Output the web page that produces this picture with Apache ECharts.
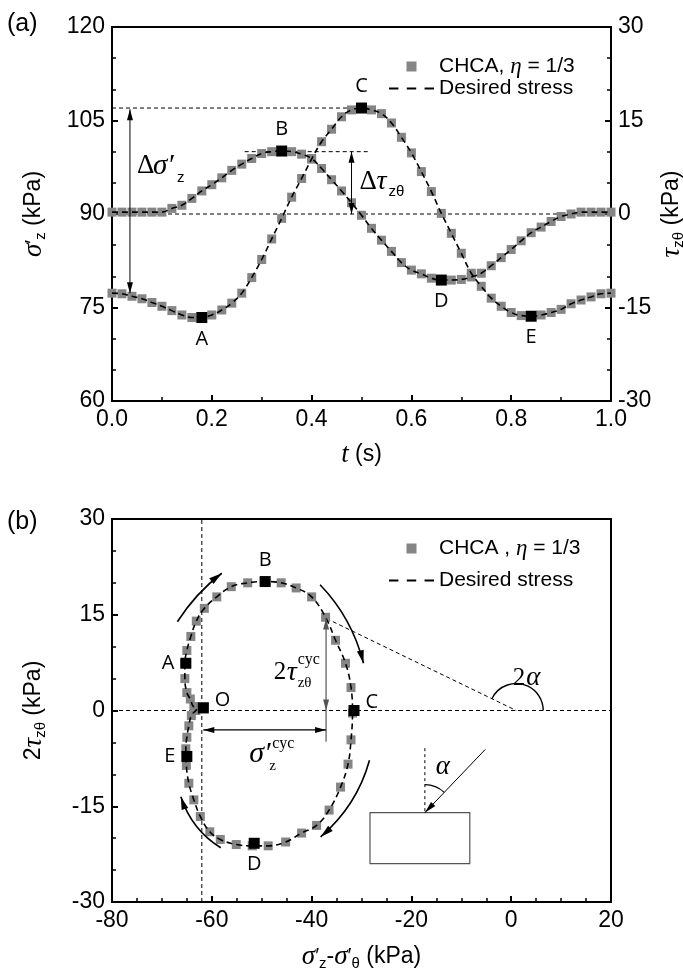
<!DOCTYPE html>
<html><head><meta charset="utf-8">
<script src="https://cdn.jsdelivr.net/npm/echarts/dist/echarts.min.js"></script>
<style>html,body{margin:0;padding:0;background:#fff}#c{width:683px;height:974px}</style>
</head><body><div id="c"></div>
<script>
// ---------- data (panel a) ----------
const tVals = [0,0.02,0.04,0.06,0.08,0.10,0.12,0.14,0.16,0.18,0.20,0.22,0.24,0.26,0.28,0.30,0.32,0.34,0.36,0.38,0.40,0.42,0.44,0.46,0.48,0.50,0.52,0.54,0.56,0.58,0.60,0.62,0.64,0.66,0.68,0.70,0.72,0.74,0.76,0.78,0.80,0.82,0.84,0.86,0.88,0.90,0.92,0.94,0.96,0.98,1.00];
const sigmaZ = [77.3,77.2,76.8,76.4,75.8,75.2,74.5,73.8,73.4,73.4,73.8,74.6,75.7,77.3,79.8,82.7,86.0,89.3,92.7,95.7,98.8,101.6,103.6,105.6,106.7,107.0,106.7,106.1,104.6,102.3,99.8,96.8,93.6,90.1,86.9,83.7,80.5,78.4,76.5,75.2,74.2,73.7,73.6,73.8,74.2,74.7,75.6,76.2,76.7,77.2,77.3];
const tauZT = [0.3,0.3,0.3,0.3,0.3,0.3,0.9,1.4,2.5,3.7,4.7,5.8,7.0,8.0,8.9,9.7,10.0,10.1,10.0,9.6,8.9,7.3,5.5,3.7,1.8,-0.2,-2.3,-4.2,-6.0,-7.8,-9.0,-9.6,-10.3,-10.6,-10.6,-10.5,-10.1,-9.5,-8.3,-7.0,-5.7,-4.3,-3.0,-2.1,-1.2,-0.4,0.0,0.3,0.3,0.3,0.3];
const keySigT = [0.18,0.50,0.84], keySigV = [73.4,107.0,73.6], keySigN = ['A','C','E'];
const keyTauT = [0.34,0.66], keyTauV = [10.1,-10.6], keyTauN = ['B','D'];
// ---------- data (panel b) ----------
const loopX = [-61.5,-61.6,-62.0,-62.4,-63.0,-63.6,-64.3,-65.0,-65.4,-65.4,-65.0,-64.2,-63.1,-61.5,-59.0,-56.1,-52.8,-49.5,-46.1,-43.1,-40.0,-37.2,-35.2,-33.2,-32.1,-31.8,-32.1,-32.7,-34.2,-36.5,-39.0,-42.0,-45.2,-48.7,-51.9,-55.1,-58.3,-60.4,-62.3,-63.6,-64.6,-65.1,-65.2,-65.0,-64.6,-64.1,-63.2,-62.6,-62.1,-61.6];
const loopY = [0.6,0.6,0.6,0.6,0.6,0.6,1.8,2.8,5.0,7.4,9.4,11.6,14.0,16.0,17.8,19.4,20.0,20.2,20.0,19.2,17.8,14.6,11.0,7.4,3.6,-0.4,-4.6,-8.4,-12.0,-15.6,-18.0,-19.2,-20.6,-21.2,-21.2,-21.0,-20.2,-19.0,-16.6,-14.0,-11.4,-8.6,-6.0,-4.2,-2.4,-0.8,0.0,0.6,0.6,0.6];
const keyLoopX = [-61.7,-65.2,-49.3,-31.5,-51.5,-65.0];
const keyLoopY = [0.4,7.4,20.2,0.0,-20.8,-7.2];
const keyLoopN = ['O','A','B','C','D','E'];
const keyLoopPos = ['right','left','top','right','bottom','left'];

const SANS = '"Liberation Sans", Arial, sans-serif';
const SERIF = '"Liberation Serif", "Times New Roman", serif';
const LBL = '"Open Sans", sans-serif';

const richName = {
  s:{fontFamily:SERIF, fontStyle:'italic', fontSize:27, color:'#000'},
  p:{fontFamily:SANS, fontSize:21, color:'#000'},
  b:{fontFamily:SANS, fontSize:15, color:'#000', padding:[14,0,0,0]},
  n:{fontFamily:SANS, fontSize:23, color:'#000'}
};

function axis(extra, minorSplit){
  return Object.assign({
    type:'value',
    axisLine:{show:true, onZero:false, lineStyle:{color:'#000', width:2}},
    axisTick:{show:true, inside:true, length:6, lineStyle:{color:'#000', width:2}},
    minorTick:{show:true, splitNumber:minorSplit, length:4, lineStyle:{color:'#000', width:1.5}},
    splitLine:{show:false},
    axisLabel:{color:'#000', fontSize:23, fontFamily:SANS, margin:7},
    nameLocation:'middle', nameMoveOverlap:false,
    nameTextStyle:{rich:richName, fontFamily:SANS, fontSize:23, color:'#000'}
  }, extra);
}

const chart = echarts.init(document.getElementById('c'), null, {renderer:'canvas'});

const gray = '#858585';
const grayStyle = {color:gray, opacity:1};
const blackStyle = {color:'#000', opacity:1};
const dash = {color:'#000', width:1.6, type:[6,4]};
const NAME_A = 'CHCA, η = 1/3', NAME_B = 'CHCA , η = 1/3', NAME_D = 'Desired stress';
const SQUARE = 'path://M0,0h10v10h-10z';
const DASHES = 'path://M0,0h9v2h-9zM17,0h9v2h-9zM34,0h9v2h-9z';
const legendText = {fontFamily:SANS, fontSize:21, color:'#000', lineHeight:17,
  rich:{i:{fontFamily:SERIF, fontStyle:'italic', fontSize:23, color:'#000', lineHeight:17}}};

const option = {
  animation:false,
  backgroundColor:'#fff',
  grid:[
    {left:112, right:72, top:27, height:374, show:true, borderColor:'#000', borderWidth:2, containLabel:false, outerBoundsMode:'none'},
    {left:112, right:72, top:519, height:383, show:true, borderColor:'#000', borderWidth:2, containLabel:false, outerBoundsMode:'none'}
  ],
  xAxis:[
    axis({gridIndex:0, min:0, max:1, interval:0.2, name:'{s|t}{n| (s)}', nameGap:40,
          axisLabel:{color:'#000', fontSize:23, fontFamily:SANS, margin:7, formatter:v=>v.toFixed(1)}}, 2),
    axis({gridIndex:1, min:-80, max:20, interval:20, nameGap:40,
          name:'{s|σ}{p|′}{b|z}{n|-}{s|σ}{p|′}{b|θ}{n| (kPa)}'}, 4)
  ],
  yAxis:[
    axis({gridIndex:0, min:60, max:120, interval:15, name:'{s|σ}{p|′}{b|z}{n| (kPa)}', nameRotate:90, nameGap:64}, 3),
    axis({gridIndex:0, min:-30, max:30, interval:15, position:'right', name:'{s|τ}{b|zθ}{n| (kPa)}', nameRotate:90, nameGap:46}, 3),
    axis({gridIndex:1, min:-30, max:30, interval:15, name:'{n|2}{s|τ}{b|zθ}{n| (kPa)}', nameRotate:90, nameGap:64}, 3)
  ],
  legend:[
    {orient:'vertical', left:389, top:55, padding:0, itemWidth:45, itemHeight:10, itemGap:0, selectedMode:false,
     textStyle:legendText, formatter:n=>n.replace('η','{i|η}'),
     data:[{name:NAME_A, icon:SQUARE, itemStyle:grayStyle}, {name:NAME_D, icon:DASHES, itemStyle:blackStyle}]},
    {orient:'vertical', left:389, top:537, padding:0, itemWidth:45, itemHeight:10, itemGap:10, selectedMode:false,
     textStyle:legendText, formatter:n=>n.replace('η','{i|η}'),
     data:[{name:NAME_B, icon:SQUARE, itemStyle:grayStyle}, {name:NAME_D, icon:DASHES, itemStyle:blackStyle}]}
  ],
  series:[
    {type:'scatter', name:NAME_A, xAxisIndex:0, yAxisIndex:0, symbol:'rect', symbolSize:9, itemStyle:grayStyle, z:3,
     data:tVals.map((t,i)=>[t,sigmaZ[i]])},
    {type:'scatter', name:NAME_A, xAxisIndex:0, yAxisIndex:1, symbol:'rect', symbolSize:9, itemStyle:grayStyle, z:3,
     data:tVals.map((t,i)=>[t,tauZT[i]])},
    {type:'line', name:NAME_D, xAxisIndex:0, yAxisIndex:0, symbol:'none', smooth:0.4, lineStyle:dash, itemStyle:blackStyle, z:4,
     data:tVals.map((t,i)=>[t,sigmaZ[i]])},
    {type:'line', name:NAME_D, xAxisIndex:0, yAxisIndex:1, symbol:'none', smooth:0.4, lineStyle:dash, itemStyle:blackStyle, z:4,
     data:tVals.map((t,i)=>[t,tauZT[i]])},
    {type:'scatter', name:'keyA1', xAxisIndex:0, yAxisIndex:0, symbol:'rect', symbolSize:11, itemStyle:blackStyle, z:6,
     label:{show:true, formatter:'{b}', fontFamily:LBL, fontSize:20, color:'#000'},
     data:keySigT.map((t,i)=>({name:keySigN[i], value:[t,keySigV[i]], label:{position: keySigN[i]==='C'?'top':'bottom', distance:6}}))},
    {type:'scatter', name:'keyA2', xAxisIndex:0, yAxisIndex:1, symbol:'rect', symbolSize:11, itemStyle:blackStyle, z:6,
     label:{show:true, formatter:'{b}', fontFamily:LBL, fontSize:20, color:'#000'},
     data:keyTauT.map((t,i)=>({name:keyTauN[i], value:[t,keyTauV[i]], label:{position: keyTauN[i]==='B'?'top':'bottom', distance:6}}))},
    {type:'scatter', name:NAME_B, xAxisIndex:1, yAxisIndex:2, symbol:'rect', symbolSize:9, itemStyle:grayStyle, z:3,
     data:loopX.map((x,i)=>[x,loopY[i]])},
    {type:'line', name:NAME_D, xAxisIndex:1, yAxisIndex:2, symbol:'none', smooth:0.4, lineStyle:dash, itemStyle:blackStyle, z:4,
     data:loopX.map((x,i)=>[x,loopY[i]]).concat([[loopX[0],loopY[0]]])},
    {type:'scatter', name:'keyB', xAxisIndex:1, yAxisIndex:2, symbol:'rect', symbolSize:11, itemStyle:blackStyle, z:6,
     label:{show:true, formatter:'{b}', fontFamily:LBL, fontSize:20, color:'#000'},
     data:keyLoopX.map((x,i)=>({name:keyLoopN[i], value:[x,keyLoopY[i]],
       label:{position:keyLoopPos[i], distance:6, offset:(keyLoopN[i]==='O'||keyLoopN[i]==='C')?[0,-8]:[0,0]}}))}
  ]
};
chart.setOption(option);

// ---------- annotations ----------
function P0(x,y){ return chart.convertToPixel({xAxisIndex:0, yAxisIndex:0}, [x,y]); }
function P1(x,y){ return chart.convertToPixel({xAxisIndex:1, yAxisIndex:2}, [x,y]); }
function seg(a,b,o){ o=o||{}; return {type:'line', silent:true, z:o.z||10,
  shape:{x1:a[0],y1:a[1],x2:b[0],y2:b[1]}, style:{stroke:o.c||'#000', lineWidth:o.w||1, lineDash:o.d||null}}; }
function head(tip, from, L, W, c){
  const dx=tip[0]-from[0], dy=tip[1]-from[1], len=Math.hypot(dx,dy), ux=dx/len, uy=dy/len;
  const bx=tip[0]-ux*L, by=tip[1]-uy*L;
  return {type:'polygon', silent:true, z:11, shape:{points:[[tip[0],tip[1]],[bx-uy*W/2,by+ux*W/2],[bx+uy*W/2,by-ux*W/2]]}, style:{fill:c||'#000'}};
}
function dbl(a,b,c,w){ return [seg(a,b,{c:c,w:w||1}), head(a,b,11,6,c), head(b,a,11,6,c)]; }
function curve(a,cp,b){
  return [{type:'bezierCurve', silent:true, z:10, shape:{x1:a[0],y1:a[1],x2:b[0],y2:b[1],cpx1:cp[0],cpy1:cp[1]},
           style:{stroke:'#000', lineWidth:1.6, fill:null}}, head(b,cp,13,7,'#000')];
}
function txt(p, text, o){ o=o||{}; return {type:'text', silent:true, z:12, x:p[0], y:p[1],
  style:{text:text, font:o.font||('22px '+SERIF), fill:'#000', align:o.align||'left', verticalAlign:o.va||'middle',
         textAlign:o.align||'left', textVerticalAlign:o.va||'middle'}}; }

function build(){
  const g = [];
  const dd = [4,3];
  // panel a
  g.push(seg(P0(0,107),P0(0.5,107),{d:dd, z:2}));
  g.push(seg(P0(0,90),P0(1,90),{d:dd, z:2}));
  g.push(seg(P0(0.266,100),P0(0.516,100),{d:dd, z:2}));
  g.push(...dbl(P0(0.036,106.8),P0(0.036,77.3)));
  g.push(...dbl(P0(0.48,100),P0(0.48,90)));
  let p = P0(0.05,97.7);
  g.push(txt(p,'Δ',{font:'27px '+SERIF}));
  g.push(txt([p[0]+16,p[1]],'σ′',{font:'italic 29px '+SERIF}));
  g.push(txt([p[0]+40,p[1]+12],'z',{font:'15px '+SANS}));
  p = P0(0.496,95.2);
  g.push(txt(p,'Δ',{font:'27px '+SERIF}));
  g.push(txt([p[0]+17,p[1]],'τ',{font:'italic 28px '+SERIF}));
  g.push(txt([p[0]+29,p[1]+10],'zθ',{font:'15px '+SANS}));
  // panel tags
  g.push(txt([7,24],'(a)',{font:'25px '+SANS}));
  g.push(txt([7,522],'(b)',{font:'25px '+SANS}));
  // panel b
  g.push(seg(P1(-62,-30),P1(-62,30),{d:dd, z:2}));
  g.push(seg(P1(-80,0),P1(20,0),{d:dd, z:2}));
  g.push(seg(P1(-37,14.4),P1(1,0),{d:dd, z:2}));
  const c2 = P1(1,0), e2 = P1(-37,14.4);
  const ang = Math.atan2(e2[1]-c2[1], e2[0]-c2[0]);
  g.push({type:'arc', silent:true, z:10, shape:{cx:c2[0], cy:c2[1], r:27, startAngle:ang, endAngle:0, clockwise:true}, style:{stroke:'#000', lineWidth:1.4, fill:null}});
  p = P1(2.8,5.1);
  g.push(txt(p,'2',{font:'25px '+SERIF, align:'right'}));
  g.push(txt([p[0]+1,p[1]],'α',{font:'italic 27px '+SERIF}));
  const vt = P1(-37.1,14.4), v0 = P1(-37.1,0), vb = P1(-37.1,-4.9);
  g.push(...dbl(vt,v0,'#555',1.2));
  g.push(seg(v0,vb,{c:'#555', w:1.2}));
  g.push(...dbl(P1(-61.7,-3.05),P1(-37.1,-3.05),'#000',1.2));
  p = P1(-47.6,6.0);
  g.push(txt(p,'2',{font:'25px '+SERIF}));
  g.push(txt([p[0]+13,p[1]],'τ',{font:'italic 28px '+SERIF}));
  g.push(txt([p[0]+24,p[1]-12],'cyc',{font:'16px '+SERIF}));
  g.push(txt([p[0]+24,p[1]+11],'zθ',{font:'15px '+SERIF}));
  p = P1(-52.5,-6.9);
  g.push(txt(p,'σ′',{font:'italic 30px '+SERIF}));
  g.push(txt([p[0]+23,p[1]-11],'cyc',{font:'16px '+SERIF}));
  g.push(txt([p[0]+20,p[1]+12],'z',{font:'15px '+SERIF}));
  // curved arrows
  g.push(...curve(P1(-66.9,13.9),P1(-63.2,18.4),P1(-58.0,21.5)));
  g.push(...curve(P1(-38.3,19.7),P1(-31.9,14.5),P1(-29.6,7.4)));
  g.push(...curve(P1(-28.4,-7.8),P1(-30.9,-14.9),P1(-38.2,-19.8)));
  g.push(...curve(P1(-58.2,-21.5),P1(-64.0,-18.7),P1(-66.2,-13.5)));
  // inset sketch
  const r1 = P1(-28.3,-16), r2 = P1(-8.3,-24);
  g.push({type:'rect', silent:true, z:9, shape:{x:r1[0], y:r1[1], width:r2[0]-r1[0], height:r2[1]-r1[1]}, style:{stroke:'#555', lineWidth:1.2, fill:null}});
  const top = P1(-17.3,-16);
  g.push(seg(P1(-17.3,-5.9),top,{d:[3,3], w:1}));
  const src = P1(-5.2,-6.1);
  g.push(seg(src,top,{w:1}));
  g.push(head(top,src,12,6,'#000'));
  const a2 = Math.atan2(src[1]-top[1], src[0]-top[0]);
  g.push({type:'arc', silent:true, z:10, shape:{cx:top[0], cy:top[1], r:28, startAngle:-Math.PI/2, endAngle:a2, clockwise:true}, style:{stroke:'#000', lineWidth:1.2, fill:null}});
  g.push(txt(P1(-13.7,-8.9),'α',{font:'italic 27px '+SERIF, align:'center'}));
  chart.setOption({graphic:g});
}
build();
</script></body></html>
